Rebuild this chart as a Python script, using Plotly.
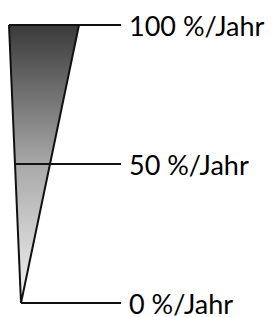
import plotly.graph_objects as go

# Data
rate_values = [0, 50, 100]
rate_labels = ["0 %/Jahr", "50 %/Jahr", "100 %/Jahr"]

# Layout constants (x positions in axis units = page pixels)
PAGE_OFFSET = 8          # default body margin of the html page
APEX_X = 21
TOP_LEFT_X = 9
TOP_RIGHT_X = 79
TICK_END_X = 121
LABEL_X = 127
TOP_PX, BOTTOM_PX = 25, 303   # pixel rows of the 100 and 0 lines
VMAX = max(rate_values)
VMIN = min(rate_values)

def left_edge(v):
    return APEX_X + (TOP_LEFT_X - APEX_X) * (v - VMIN) / (VMAX - VMIN)

fig = go.Figure()

# Wedge with vertical gradient
fig.add_trace(go.Scatter(
    x=[left_edge(VMAX), TOP_RIGHT_X, APEX_X, left_edge(VMAX)],
    y=[VMAX, VMAX, VMIN, VMAX],
    mode="lines",
    fill="toself",
    fillgradient=dict(type="vertical", start=VMIN, stop=VMAX,
                      colorscale=[[0, "#f4f4f4"], [0.5, "#a8a8a8"], [1, "#3a3a3a"]]),
    line=dict(color="#111111", width=2),
    hoverinfo="skip",
    showlegend=False,
))

# Tick lines
for v in rate_values:
    fig.add_trace(go.Scatter(
        x=[left_edge(v), TICK_END_X], y=[v, v],
        mode="lines", line=dict(color="#111111", width=2),
        hoverinfo="skip", showlegend=False,
    ))

for v, lab in zip(rate_values, rate_labels):
    fig.add_annotation(x=LABEL_X, y=v, text=lab, showarrow=False,
                       xanchor="left", yanchor="middle",
                       font=dict(family="Lato", size=27, color="#000000"))

W, H = 276, 317
px_per_unit = (BOTTOM_PX - TOP_PX) / (VMAX - VMIN)
y_top = VMAX + (TOP_PX - PAGE_OFFSET) / px_per_unit
y_bot = VMIN - (H - BOTTOM_PX) / px_per_unit

fig.update_layout(
    width=W - PAGE_OFFSET, height=H - PAGE_OFFSET,
    margin=dict(l=0, r=0, t=0, b=0),
    paper_bgcolor="white", plot_bgcolor="white",
    xaxis=dict(range=[PAGE_OFFSET, W], visible=False, fixedrange=True),
    yaxis=dict(range=[y_bot, y_top], visible=False, fixedrange=True),
)

fig.write_html("out.html")
